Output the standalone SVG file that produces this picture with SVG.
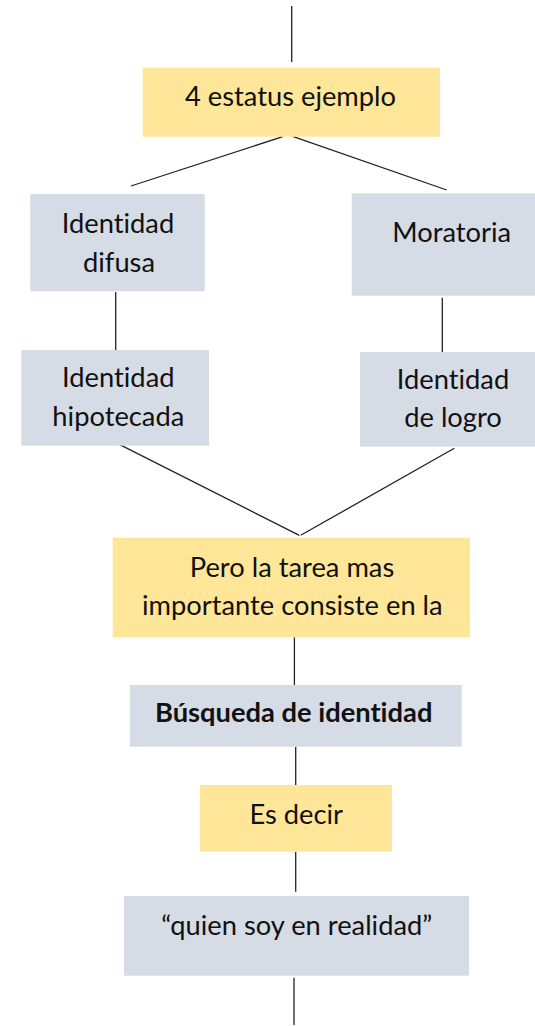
<svg xmlns="http://www.w3.org/2000/svg" width="535" height="1026" viewBox="0 0 535 1026">
<style>
.y{fill:#FFE699}
.g{fill:#D6DCE5}
text{font-family:Lato,"Open Sans","Liberation Sans",sans-serif;font-size:27.3px;fill:#111;text-anchor:middle;font-variant-ligatures:none;font-feature-settings:"liga" 0}
.b{font-weight:bold}
#connectors line{stroke:#222;stroke-width:1.3;fill:none}
</style>
<rect width="535" height="1026" fill="#fff"/>
<g id="connectors">
<line x1="291.7" y1="6" x2="291.7" y2="62"/>
<line x1="282.7" y1="136.7" x2="131" y2="186"/>
<line x1="293.3" y1="136.7" x2="446.7" y2="190"/>
<line x1="115.7" y1="292" x2="115.7" y2="350"/>
<line x1="442.3" y1="297.7" x2="442.3" y2="353.7"/>
<line x1="117.3" y1="443.3" x2="299.3" y2="535.3"/>
<line x1="454.3" y1="448.3" x2="300.7" y2="535.3"/>
<line x1="294.4" y1="637.3" x2="294.4" y2="685.7"/>
<line x1="295.7" y1="746.7" x2="295.7" y2="785.7"/>
<line x1="295.7" y1="851.7" x2="295.7" y2="891.7"/>
<line x1="294" y1="977.7" x2="294" y2="1025"/>
</g>
<g id="n-estatus">
<rect class="y" x="142.7" y="67.7" width="297.3" height="69"/>
<text x="290.5" y="106">4 estatus ejemplo</text>
</g>
<g id="n-difusa">
<rect class="g" x="30.3" y="194" width="174.4" height="97.3"/>
<text x="118" y="233">Identidad</text>
<text x="119" y="271.5">difusa</text>
</g>
<g id="n-moratoria">
<rect class="g" x="351.7" y="193.3" width="183.3" height="102.4"/>
<text x="451.7" y="241.7">Moratoria</text>
</g>
<g id="n-hipotecada">
<rect class="g" x="21.3" y="350" width="187.7" height="95.7"/>
<text x="118.3" y="387.3">Identidad</text>
<text x="118.3" y="426">hipotecada</text>
</g>
<g id="n-logro">
<rect class="g" x="360" y="352" width="175" height="94.7"/>
<text x="453" y="389.3">Identidad</text>
<text x="453" y="427">de logro</text>
</g>
<g id="n-pero">
<rect class="y" x="112.7" y="537.7" width="357.3" height="99.6"/>
<text x="292" y="577">Pero la tarea mas</text>
<text x="292.3" y="615.3">importante consiste en la</text>
</g>
<g id="n-busqueda">
<rect class="g" x="130" y="685" width="331.7" height="61.7"/>
<text class="b" x="293.7" y="722.3">Búsqueda de identidad</text>
</g>
<g id="n-esdecir">
<rect class="y" x="200" y="785" width="192" height="66.7"/>
<text x="296.2" y="824">Es decir</text>
</g>
<g id="n-quien">
<rect class="g" x="124" y="896" width="345" height="79.7"/>
<text x="296.7" y="935">“quien soy en realidad”</text>
</g>
</svg>
